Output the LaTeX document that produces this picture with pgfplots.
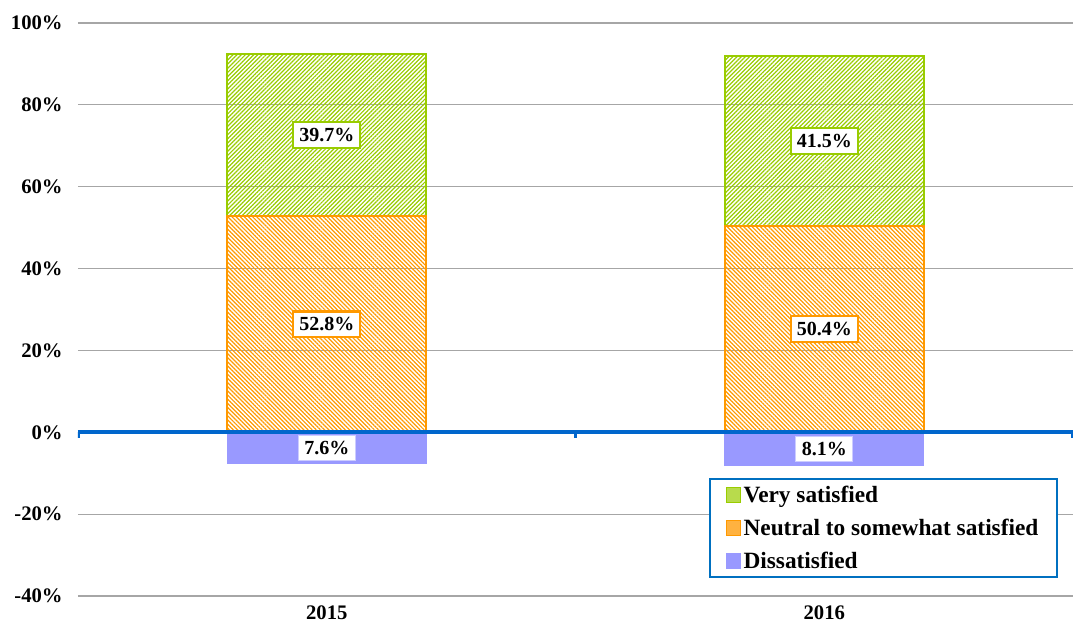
\documentclass[border=0pt]{standalone}
\usepackage{fontspec}
\setmainfont{Liberation Serif}
\usepackage{pgfplots}
\pgfplotsset{compat=1.18}
\usetikzlibrary{patterns.meta}
\definecolor{vgreen}{HTML}{99CC00}
\definecolor{vorange}{HTML}{FF9900}
\definecolor{vpurple}{HTML}{9999FF}
\definecolor{vblue}{HTML}{0066CC}
\definecolor{vlegend}{HTML}{0070C0}
\definecolor{vgrid}{HTML}{A6A6A6}
\pgfplotsset{
  common/.style={
    scale only axis, width=746.25pt, height=429.75pt,
    xmin=-0.5, xmax=1.5, ymin=-40, ymax=100,
    /pgf/number format/assume math mode=true,
  },
  lab/.style={
    draw=none, mark=none, forget plot,
    nodes near coords={\pgfmathprintnumber[fixed,precision=1,fixed zerofill,assume math mode=true]{\pgfplotspointmeta}\%},
    point meta=explicit,
    every node near coord/.append style={anchor=center, fill=white, draw=#1,
      font=\fontsize{15}{18}\selectfont\bfseries, inner xsep=4.5pt, inner ysep=4.5pt, text=black},
  },
}
\begin{document}
\begin{tikzpicture}
\begin{axis}[common,
  ybar stacked, bar width=0.4,
  ytick={-40,-20,...,100},
  yticklabel={\pgfmathprintnumber{\tick}\%},
  xtick={0,1}, xticklabels={2015,2016},
  axis line style={draw=none},
  major tick length=0pt,
  ymajorgrids, grid style={vgrid, line width=0.9pt},
  tick label style={font=\fontsize{15.5}{18}\selectfont\bfseries},
  yticklabel style={xshift=-8pt},
  xticklabel style={yshift=-4pt},
  legend style={at={(rel axis cs:0.985,0.206)}, anchor=north east,
    draw=vlegend, line width=1.5pt, font=\fontsize{17.5}{20}\selectfont\bfseries,
    inner xsep=12pt, inner ysep=3pt, row sep=7pt,
    /tikz/every even column/.append style={column sep=1pt}},
  legend cell align=left,
  legend image code/.code={\draw[#1, line width=0.4pt] (0pt,-5.5pt) rectangle (11pt,5.5pt);},
]
\addplot[forget plot, draw=vorange, line width=1.6pt,
  pattern={Lines[angle=-45,distance=2.2pt,line width=0.9pt]}, pattern color=vorange]
  coordinates {(0,52.8) (1,50.4)};
\addplot[forget plot, draw=vgreen, line width=1.6pt,
  pattern={Lines[angle=45,distance=2.2pt,line width=0.9pt]}, pattern color=vgreen]
  coordinates {(0,39.7) (1,41.5)};
\addlegendimage{draw=vgreen, fill=vgreen!70}
\addlegendentry{Very satisfied}
\addlegendimage{draw=vorange, fill=vorange!75}
\addlegendentry{Neutral to somewhat satisfied}
\addlegendimage{draw=vpurple, fill=vpurple}
\addlegendentry{Dissatisfied}
\end{axis}
\begin{axis}[common, hide axis]
\addplot[ybar, bar width=0.4, bar shift=0pt, forget plot, draw=vpurple, fill=vpurple, line width=0.5pt]
  coordinates {(0,-7.6) (1,-8.1)};
\draw[vblue, line width=2.7pt] (axis cs:-0.5,0) -- (axis cs:1.5,0);
\draw[vblue, line width=2.5pt] (axis cs:-0.5,0) -- ([yshift=-4.5pt]axis cs:-0.5,0);
\draw[vblue, line width=2.5pt] (axis cs:0.5,0) -- ([yshift=-4.5pt]axis cs:0.5,0);
\draw[vblue, line width=2.5pt] (axis cs:1.5,0) -- ([yshift=-4.5pt]axis cs:1.5,0);
\addplot[lab={vgreen, line width=1.7pt}] table[meta=v] {
x y v
0 72.65 39.7
1 71.15 41.5
};
\addplot[lab={vorange, line width=1.7pt}] table[meta=v] {
x y v
0 26.4 52.8
1 25.2 50.4
};
\addplot[lab={vpurple!50, line width=0.5pt}] table[meta=v] {
x y v
0 -3.8 7.6
1 -4.05 8.1
};
\end{axis}
\pgfresetboundingbox
\useasboundingbox (-58.5pt,-27pt) rectangle (746.25pt,447pt);
\end{tikzpicture}
\end{document}
